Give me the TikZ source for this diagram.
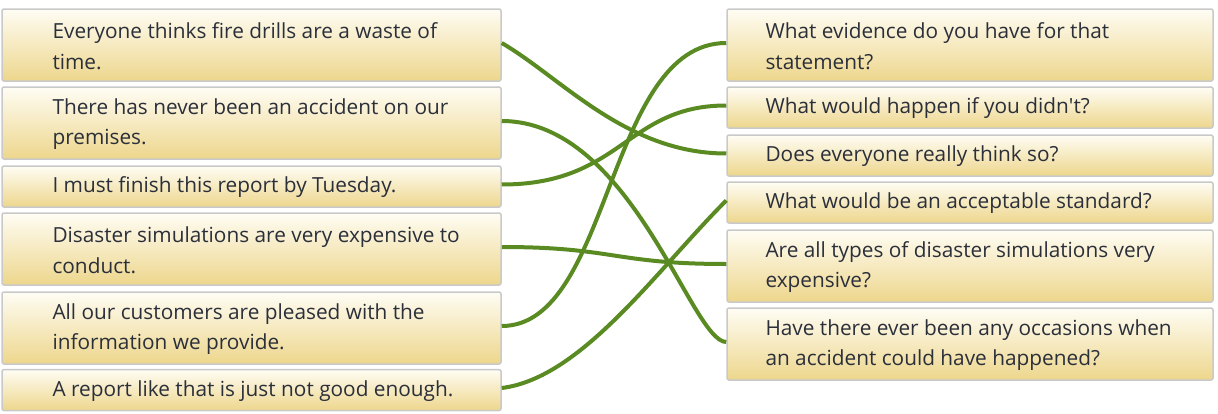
\documentclass[tikz,border=0pt]{standalone}
\usepackage{fontspec}
\setmainfont{Open Sans}
\usetikzlibrary{positioning}
\newdimen\pxu \pxu=0.75pt
\definecolor{linkgreen}{HTML}{5A8A22}
\definecolor{boxtop}{HTML}{FFFDF4}
\definecolor{boxbot}{HTML}{EDD68C}
\definecolor{boxline}{HTML}{C9C9C9}
\definecolor{ink}{HTML}{2B2F3A}
\tikzset{
  card/.style = {rectangle, rounded corners=2\pxu, draw=boxline,
    line width=1.5\pxu, top color=boxtop, bottom color=boxbot,
    inner sep=0pt},% common box
  stmt/.style = {card, minimum width=499\pxu},% left column
  quest/.style = {card, minimum width=486\pxu},% right column
  tall/.style = {minimum height=72\pxu},% two lines
  short/.style = {minimum height=41\pxu},% one line
  cardtext/.style = {inner sep=0pt, align=left, text=ink, yshift=-1\pxu,
    font=\fontsize{15.6}{23}\selectfont},
  link/.style = {draw=linkgreen, line width=3pt}
}

\begin{document}
\begin{tikzpicture}[x=0.75pt,y=-0.75pt]
  \useasboundingbox (0,0) rectangle (1218,414);
  % statements
  \node [stmt, tall]  (s1) at (251.5,45) {};
  \node [stmt, tall]  (s2) at (251.5,123) {};
  \node [stmt, short] (s3) at (251.5,186.5) {};
  \node [stmt, tall]  (s4) at (251.5,249) {};
  \node [stmt, tall]  (s5) at (251.5,328) {};
  \node [stmt, short] (s6) at (251.5,390) {};
  % questions
  \node [quest, tall]  (q1) at (970,45) {};
  \node [quest, short] (q2) at (970,107.5) {};
  \node [quest, short] (q3) at (970,155.5) {};
  \node [quest, short] (q4) at (970,202.5) {};
  \node [quest, tall]  (q5) at (970,266) {};
  \node [quest, tall]  (q6) at (970,344) {};
  % texts
  \node [cardtext, right=51\pxu of s1.west] (s1t) {Everyone thinks fire drills are a waste of\\time.};
  \node [cardtext, right=51\pxu of s2.west] (s2t) {There has never been an accident on our\\premises.};
  \node [cardtext, right=51\pxu of s3.west] (s3t) {I must finish this report by Tuesday.};
  \node [cardtext, right=51\pxu of s4.west] (s4t) {Disaster simulations are very expensive to\\conduct.};
  \node [cardtext, right=51\pxu of s5.west] (s5t) {All our customers are pleased with the\\information we provide.};
  \node [cardtext, right=51\pxu of s6.west] (s6t) {A report like that is just not good enough.};
  \node [cardtext, right=39\pxu of q1.west] (q1t) {What evidence do you have for that\\statement?};
  \node [cardtext, right=39\pxu of q2.west] (q2t) {What would happen if you didn\textquotesingle t?};
  \node [cardtext, right=39\pxu of q3.west] (q3t) {Does everyone really think so?};
  \node [cardtext, right=39\pxu of q4.west] (q4t) {What would be an acceptable standard?};
  \node [cardtext, right=39\pxu of q5.west] (q5t) {Are all types of disaster simulations very\\expensive?};
  \node [cardtext, right=39\pxu of q6.west] (q6t) {Have there ever been any occasions when\\an accident could have happened?};
  % matches
  \draw [link] ([yshift=2\pxu]s1.east) .. controls +(60,35) and +(-100,0) .. ([yshift=2\pxu]q3.west);
  \draw [link] ([yshift=2\pxu]s2.east) .. controls +(130,0) and +(-35,0) .. ([yshift=2\pxu]q6.west);
  \draw [link] ([yshift=2\pxu]s3.east) .. controls +(120,0) and +(-100,0) .. ([yshift=2\pxu]q2.west);
  \draw [link] ([yshift=2\pxu]s4.east) .. controls +(112,0) and +(-112,0) .. ([yshift=2\pxu]q5.west);
  \draw [link] ([yshift=2\pxu]s5.east) .. controls +(110,0) and +(-120,0) .. ([yshift=2\pxu]q1.west);
  \draw [link] ([yshift=2\pxu]s6.east) .. controls +(80,-10) and +(-70,70) .. ([yshift=2\pxu]q4.west);
\end{tikzpicture}
\end{document}
